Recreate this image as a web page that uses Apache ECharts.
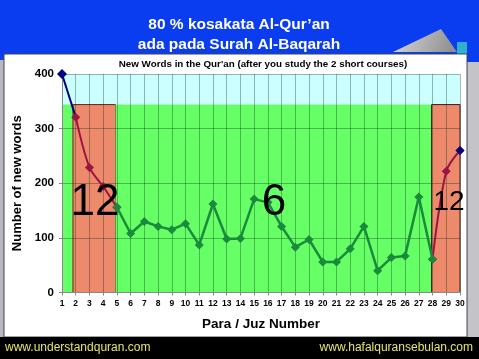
<!DOCTYPE html>
<html><head><meta charset="utf-8">
<script src="https://cdn.jsdelivr.net/npm/echarts@6/dist/echarts.min.js"></script>
<style>html,body{margin:0;padding:0;background:#0a3cf0}#c{width:479px;height:359px}</style>
</head><body><div id="c"></div>
<script>
// ---- data ----
const juzLabels = ['1','2','3','4','5','6','7','8','9','10','11','12','13','14','15','16','17','18','19','20','21','22','23','24','25','26','27','28','29','30'];
const yTickValues = [0, 100, 200, 300, 400];
const blueStartJuz = [1, 2];
const blueStartVals = [400, 321];
const blueEndJuz = [30];
const blueEndVals = [260];
const redLeftJuz = [2, 3, 4, 5];
const redLeftVals = [321, 229, 194, 156];
const greenJuz = [5,6,7,8,9,10,11,12,13,14,15,16,17,18,19,20,21,22,23,24,25,26,27,28];
const greenVals = [156,108,130,121,115,126,87,162,98,99,171,165,121,83,97,56,56,80,121,40,64,67,175,61];
const redRightJuz = [28, 29, 30];
const redRightVals = [61, 222, 260];
const bandCyanFrom = 344;
const bandLeftOrange = [1.8, 4.9];
const bandRightOrange = [27.93, 30];

const pairs = (xs, ys) => xs.map((x, i) => [x, ys[i]]);

const chart = echarts.init(document.getElementById('c'), null, {renderer: 'canvas'});
const F = 'Arial, "Liberation Sans", sans-serif';

const option = {
  backgroundColor: '#0a3cf0',
  animation: false,
  textStyle: {fontFamily: F},
  grid: {left: 62, right: 19, top: 74, bottom: 66.5, show: false},
  xAxis: {
    type: 'value', min: 1, max: 30, interval: 1, z: 3,
    axisLine: {show: true, lineStyle: {color: '#888', width: 1}},
    axisTick: {show: true, length: 3, inside: false, lineStyle: {color: '#888'}},
    axisLabel: {color: '#000', fontSize: 8.5, fontWeight: 'bold', margin: 7,
      formatter: v => juzLabels[v - 1] || ''},
    splitLine: {show: true, lineStyle: {color: 'rgba(0,40,20,0.33)', width: 1}},
    name: 'Para / Juz Number', nameLocation: 'middle', nameGap: 25,
    nameTextStyle: {color: '#000', fontSize: 13.5, fontWeight: 'bold', fontFamily: F}
  },
  yAxis: {
    type: 'value', min: 0, max: 400, interval: 100, z: 3,
    axisLine: {show: true, lineStyle: {color: '#888', width: 1}},
    axisTick: {show: true, length: 3, lineStyle: {color: '#888'}},
    axisLabel: {color: '#000', fontSize: 11.5, fontWeight: 'bold', margin: 8,
      formatter: v => yTickValues.indexOf(v) >= 0 ? String(v) : ''},
    splitLine: {show: true, lineStyle: {color: 'rgba(0,40,20,0.33)', width: 1}},
    name: 'Number of new words', nameLocation: 'middle', nameGap: 38,
    nameTextStyle: {color: '#000', fontSize: 13, fontWeight: 'bold', fontFamily: F}
  },
  series: [
    {
      type: 'line', name: 'bg', data: [], z: 1, silent: true,
      markArea: {
        silent: true, z: 1,
        data: [
          [{xAxis: 1, yAxis: bandCyanFrom, itemStyle: {color: '#ccffff'}}, {xAxis: 30, yAxis: 400}],
          [{xAxis: 1, yAxis: 0, itemStyle: {color: '#66ff66'}}, {xAxis: bandLeftOrange[0], yAxis: bandCyanFrom}],
          [{xAxis: bandLeftOrange[0], yAxis: 0, itemStyle: {color: '#ee8a6c', borderColor: '#6a2010', borderWidth: 1}}, {xAxis: bandLeftOrange[1], yAxis: bandCyanFrom}],
          [{xAxis: bandLeftOrange[1], yAxis: 0, itemStyle: {color: '#66ff66'}}, {xAxis: bandRightOrange[0], yAxis: bandCyanFrom}],
          [{xAxis: bandRightOrange[0], yAxis: 0, itemStyle: {color: '#ee8a6c', borderColor: '#3a1a10', borderWidth: 1}}, {xAxis: bandRightOrange[1], yAxis: bandCyanFrom}]
        ]
      }
    },
    {
      type: 'line', name: 'blueStart', data: pairs(blueStartJuz, blueStartVals), z: 4,
      symbol: 'diamond', symbolSize: (v, p) => p.dataIndex === 0 ? 10 : 0,
      lineStyle: {color: '#000080', width: 2}, itemStyle: {color: '#000080'}
    },
    {
      type: 'line', name: 'redLeft', data: pairs(redLeftJuz, redLeftVals), z: 5, smooth: 0.3,
      symbol: 'diamond', symbolSize: 9,
      lineStyle: {color: '#9c1444', width: 2}, itemStyle: {color: '#9c1444'}
    },
    {
      type: 'line', name: 'redRight', data: pairs(redRightJuz, redRightVals), z: 5, smooth: 0.3,
      symbol: 'diamond', symbolSize: 9,
      lineStyle: {color: '#9c1444', width: 2}, itemStyle: {color: '#9c1444'}
    },
    {
      type: 'line', name: 'green', data: pairs(greenJuz, greenVals), z: 6,
      symbol: 'diamond', symbolSize: 9,
      lineStyle: {color: '#1a8a3c', width: 2.5}, itemStyle: {color: '#1a8a3c'}
    },
    {
      type: 'line', name: 'blueEnd', data: pairs(blueEndJuz, blueEndVals), z: 7,
      symbol: 'diamond', symbolSize: 9,
      lineStyle: {color: '#000080', width: 2}, itemStyle: {color: '#000080'}
    }
  ],
  graphic: [
    {type: 'rect', z: -10, shape: {x: 0, y: 60, width: 4, height: 278}, style: {fill: '#b8b8c0'}},
    {type: 'rect', z: -10, shape: {x: 467, y: 62, width: 12, height: 276}, style: {fill: '#c4c4c8'}},
    {type: 'polygon', z: -9, shape: {points: [[393, 52], [441, 29], [457, 52]]},
      style: {fill: new echarts.graphic.LinearGradient(0, 0, 1, 1, [{offset: 0, color: '#d8d8d8'}, {offset: 1, color: '#8a8a8a'}])}},
    {type: 'rect', z: -9, shape: {x: 457, y: 42, width: 10, height: 14}, style: {fill: '#30b0d0'}},
    {type: 'rect', z: -8, shape: {x: 4, y: 54, width: 463, height: 283}, style: {fill: '#ffffff', stroke: '#444', lineWidth: 1}},
    {type: 'rect', z: -7, shape: {x: 0, y: 337, width: 479, height: 22}, style: {fill: '#000000'}},
    {type: 'text', z: 10, x: 239, y: 25, style: {text: '80 % kosakata Al-Qur\u2019an', fill: '#fff', font: 'bold 15.5px ' + F, textAlign: 'center', textVerticalAlign: 'middle'}},
    {type: 'text', z: 10, x: 239, y: 45, style: {text: 'ada pada Surah Al-Baqarah', fill: '#fff', font: 'bold 15.5px ' + F, textAlign: 'center', textVerticalAlign: 'middle'}},
    {type: 'text', z: 10, x: 263, y: 64, style: {text: 'New Words in the Qur\'an (after you study the 2 short courses)', fill: '#000', font: 'bold 9.8px ' + F, textAlign: 'center', textVerticalAlign: 'middle'}},
    {type: 'text', z: 100, x: 95, y: 203, style: {text: '12', fill: '#000', font: '44px ' + F, textAlign: 'center', textVerticalAlign: 'middle'}},
    {type: 'text', z: 100, x: 274, y: 203, style: {text: '6', fill: '#000', font: '44px ' + F, textAlign: 'center', textVerticalAlign: 'middle'}},
    {type: 'text', z: 100, x: 449, y: 202, style: {text: '12', fill: '#000', font: '28px ' + F, textAlign: 'center', textVerticalAlign: 'middle'}},
    {type: 'text', z: 10, x: 5, y: 348, style: {text: 'www.understandquran.com', fill: '#e8e46a', font: '12px ' + F, textAlign: 'left', textVerticalAlign: 'middle'}},
    {type: 'text', z: 10, x: 473, y: 348, style: {text: 'www.hafalquransebulan.com', fill: '#e8e46a', font: '12px ' + F, textAlign: 'right', textVerticalAlign: 'middle'}}
  ]
};
chart.setOption(option);
</script>
</body></html>
